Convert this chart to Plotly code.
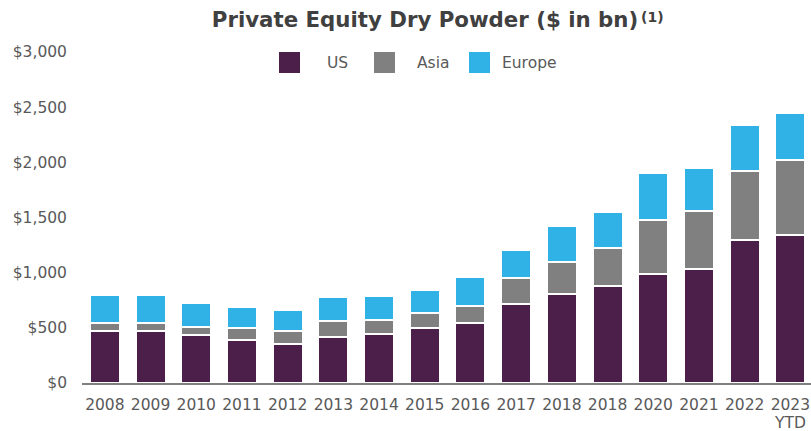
import plotly.graph_objects as go

# ---- data ----
years = ["2008", "2009", "2010", "2011", "2012", "2013", "2014", "2015",
         "2016", "2017", "2018", "2018", "2020", "2021", "2022", "2023"]
last_label_suffix = "YTD"
us = [467, 467, 431, 389, 349, 419, 446, 503, 543, 715, 808, 878, 989, 1030, 1297, 1345]
asia = [81, 81, 81, 114, 118, 142, 121, 127, 157, 235, 292, 343, 486, 527, 627, 679]
europe = [251, 251, 215, 190, 196, 214, 220, 214, 259, 256, 320, 332, 425, 394, 416, 419]
series_names = ["US", "Asia", "Europe"]
colors = ["#4C1F4B", "#808080", "#31B2E6"]
y_ticks = [0, 500, 1000, 1500, 2000, 2500, 3000]
y_ticktext = ["$0", "$500", "$1,000", "$1,500", "$2,000", "$2,500", "$3,000"]
title_text = "Private Equity Dry Powder ($ in bn)"
footnote_mark = "(1)"

FONT = "DejaVu Sans"
TXT = "#595959"

W, H = 811, 431
ML, MR, MT, MB = 82, 0, 52, 48
PW, PH = W - ML - MR, H - MT - MB

x = list(range(len(years)))
fig = go.Figure()
for name, vals, col in zip(series_names, [us, asia, europe], colors):
    fig.add_trace(go.Bar(
        x=x, y=vals, name=name,
        marker=dict(color=col, line=dict(color="white", width=2)),
        showlegend=False,
        hovertemplate="%{y}<extra>" + name + "</extra>",
    ))

# page pixel positions -> paper coords
def px_x(p):
    return (p - ML) / PW

def px_y(p):
    return (H - MB - p) / PH

shapes = []
annotations = []
legend_sq_x = [279, 374, 469]
legend_tx_x = [325, 415, 500]
for name, col, sx, tx in zip(series_names, colors, legend_sq_x, legend_tx_x):
    shapes.append(dict(type="rect", xref="paper", yref="paper",
                       x0=px_x(sx), x1=px_x(sx + 21), y0=px_y(73), y1=px_y(52),
                       fillcolor=col, line=dict(width=0)))
    annotations.append(dict(xref="paper", yref="paper", x=px_x(tx), y=px_y(63),
                            xanchor="left", yanchor="middle", showarrow=False,
                            text=name, font=dict(family=FONT, size=15.5, color=TXT)))

# footnote mark of the title
annotations.append(dict(xref="paper", yref="paper", x=px_x(639), y=px_y(17.5),
                        xanchor="left", yanchor="middle", showarrow=False,
                        text="<b>" + footnote_mark + "</b>",
                        font=dict(family=FONT, size=14, color="#404040")))

# second line of the last category label
annotations.append(dict(xref="x", yref="paper", x=x[-1], y=px_y(423),
                        xanchor="center", yanchor="middle", showarrow=False,
                        text=last_label_suffix, borderpad=0,
                        font=dict(family=FONT, size=15.5, color=TXT)))

fig.update_layout(
    width=W, height=H,
    margin=dict(l=ML, r=MR, t=MT, b=MB),
    paper_bgcolor="white", plot_bgcolor="white",
    barmode="stack", bargap=0.344,
    title=dict(text="<b>" + title_text + "</b>",
               x=425 / W, xanchor="center", y=1 - 19.5 / H, yanchor="middle",
               font=dict(family=FONT, size=21.3, color="#404040")),
    font=dict(family=FONT, size=15.5, color=TXT),
    shapes=shapes, annotations=annotations,
    xaxis=dict(range=[-0.5, -0.5 + PW / 45.7], tickvals=x, ticktext=years,
               showgrid=False, zeroline=False, showline=True,
               linecolor="#7F7F7F", linewidth=1.5, ticks="",
               ticklabelstandoff=7, automargin=False,
               tickfont=dict(family=FONT, size=15.5, color=TXT)),
    yaxis=dict(range=[0, 3000], tickvals=y_ticks, ticktext=y_ticktext,
               showgrid=False, zeroline=False, showline=False, ticks="",
               ticklabelstandoff=14, automargin=False,
               tickfont=dict(family=FONT, size=15.5, color=TXT)),
)

fig.write_html(
    "out.html",
    config={"displayModeBar": False},
    post_script="document.body.style.margin='0';document.body.style.overflow='hidden';",
)
